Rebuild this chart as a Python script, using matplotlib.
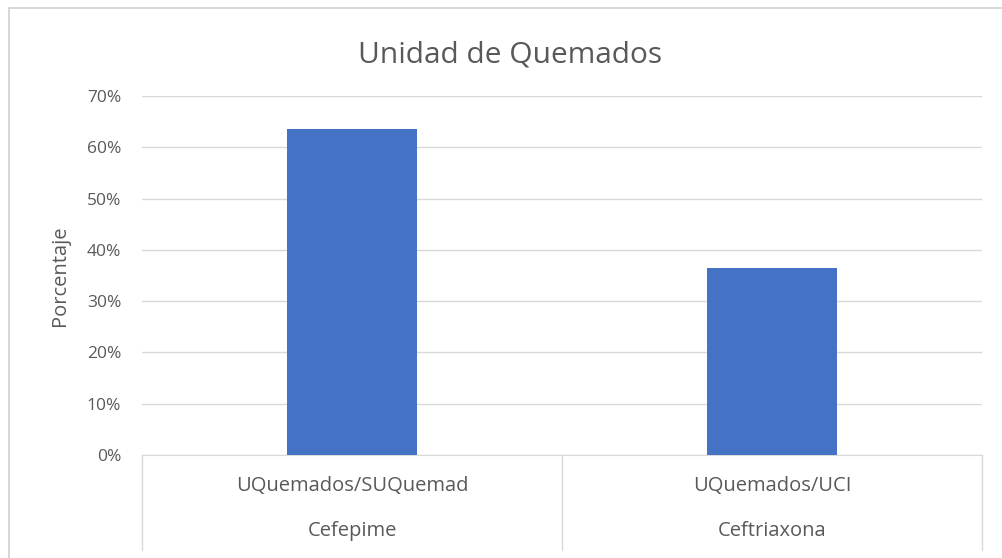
import matplotlib.pyplot as plt
from matplotlib.patches import Rectangle
from matplotlib.ticker import PercentFormatter
import matplotlib.transforms as mtrans

plt.rcParams['font.family'] = ['Open Sans', 'DejaVu Sans']

title = 'Unidad de Quemados'
units = ['UQuemados/SUQuemad', 'UQuemados/UCI']
drugs = ['Cefepime', 'Ceftriaxona']
values = [0.636, 0.364]
yticks = [0, 0.1, 0.2, 0.3, 0.4, 0.5, 0.6, 0.7]

TEXT = '#595959'
GRID = '#D9D9D9'
BAR = '#4472C4'

fig = plt.figure(figsize=(10.02, 5.58), dpi=100)
ax = fig.add_axes([142 / 1002, 1 - 455 / 558, 840 / 1002, 359 / 558])

# chart frame (cropped on right/bottom in reference)
fig.patches.append(Rectangle((9 / 1002, -0.05), 1.2, 1 - 8 / 558 + 0.05,
                             transform=fig.transFigure, fill=False,
                             edgecolor='#D0D0D0', lw=1.2))

x = range(len(values))
ax.bar(x, values, width=0.31, color=BAR, zorder=3)

ax.set_xlim(-0.5, len(values) - 0.5)
ax.set_ylim(0, 0.7)
ax.set_yticks(yticks)
ax.yaxis.set_major_formatter(PercentFormatter(1.0, decimals=0))
ax.tick_params(axis='y', length=0, labelsize=12.5, labelcolor=TEXT, pad=15)
ax.set_xticks([])
ax.grid(axis='y', color=GRID, lw=1, zorder=0)
for s in ['left', 'right', 'top']:
    ax.spines[s].set_visible(False)
ax.spines['bottom'].set_color(GRID)

ax.set_ylabel('Porcentaje', fontsize=14.5, color=TEXT, labelpad=12)
fig.text(510 / 1002, 1 - 55 / 558, title, ha='center', va='center',
         fontsize=21.5, color=TEXT)

# multi-level category axis
trans = mtrans.blended_transform_factory(ax.transData, ax.transAxes)
for b in [-0.5, 0.5, 1.5]:
    ax.plot([b, b], [0, -95 / 359], transform=trans, color=GRID, lw=1,
            clip_on=False)
for i in x:
    ax.text(i, -31 / 359, units[i], transform=trans, ha='center',
            va='center', fontsize=14.5, color=TEXT)
    ax.text(i, -76 / 359, drugs[i], transform=trans, ha='center',
            va='center', fontsize=14.5, color=TEXT)

fig.savefig('out.png', dpi=100)
